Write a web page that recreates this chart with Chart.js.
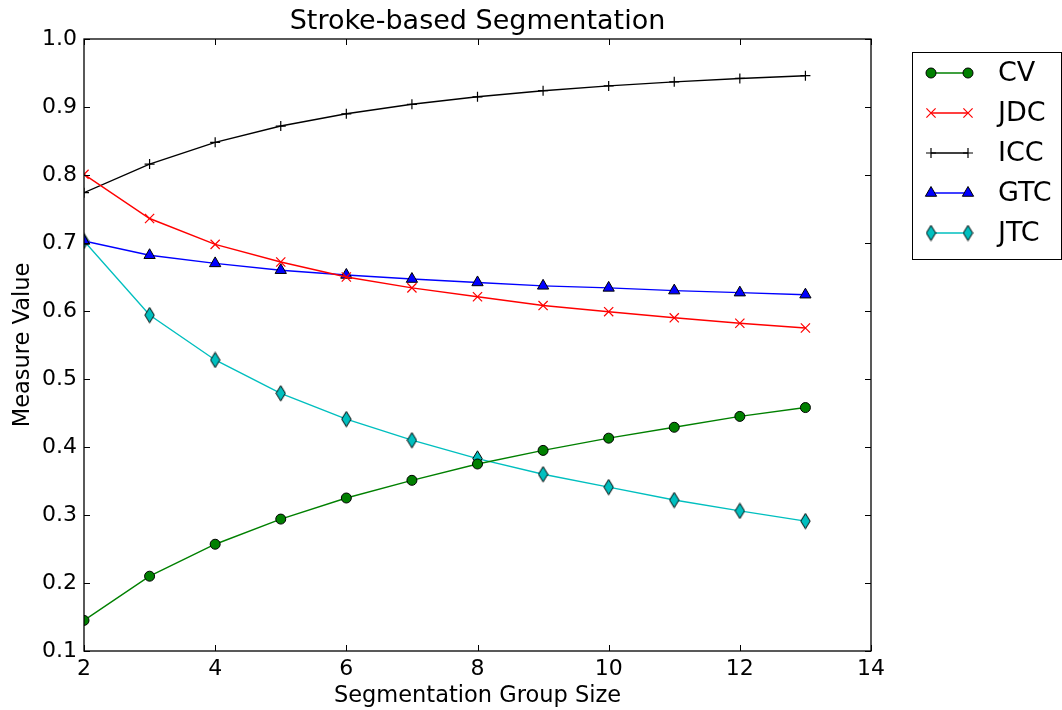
<!DOCTYPE html>
<html>
<head>
<meta charset="utf-8">
<script src="https://cdn.jsdelivr.net/npm/chart.js@4/dist/chart.umd.min.js"></script>
<style>
    html, body { margin: 0; padding: 0; background: #fff; }
    #wrap { width: 1062px; height: 710px; position: relative; }
</style>
</head>
<body>
<div id="wrap"><canvas id="segChart"></canvas></div>
<script>
// data
const groupSizes = [2, 3, 4, 5, 6, 7, 8, 9, 10, 11, 12, 13];
const cvValues  = [0.145, 0.210, 0.257, 0.294, 0.325, 0.351, 0.375, 0.395, 0.413, 0.429, 0.445, 0.458];
const jdcValues = [0.801, 0.736, 0.698, 0.672, 0.650, 0.634, 0.621, 0.608, 0.599, 0.590, 0.582, 0.575];
const iccValues = [0.774, 0.816, 0.848, 0.872, 0.890, 0.904, 0.915, 0.924, 0.931, 0.937, 0.942, 0.946];
const gtcValues = [0.703, 0.682, 0.670, 0.660, 0.653, 0.647, 0.642, 0.637, 0.634, 0.630, 0.627, 0.624];
const jtcValues = [0.703, 0.594, 0.528, 0.479, 0.441, 0.410, 0.383, 0.360, 0.341, 0.322, 0.306, 0.291];
const seriesNames = ['CV', 'JDC', 'ICC', 'GTC', 'JTC'];
const xTicks = [2, 4, 6, 8, 10, 12, 14];
const yTicks = [0.1, 0.2, 0.3, 0.4, 0.5, 0.6, 0.7, 0.8, 0.9, 1.0];

const FONT = 'DejaVu Sans';

document.addEventListener('DOMContentLoaded', function() {
    // thin diamond like matplotlib 'd'
    function makeDiamond(fill) {
        const c = document.createElement('canvas');
        c.width = 11; c.height = 17;
        const g = c.getContext('2d');
        g.beginPath();
        g.moveTo(5.5, 0.8);
        g.lineTo(10.2, 8.5);
        g.lineTo(5.5, 16.2);
        g.lineTo(0.8, 8.5);
        g.closePath();
        g.fillStyle = fill;
        g.fill();
        g.strokeStyle = '#000';
        g.lineWidth = 1;
        g.stroke();
        return c;
    }
    const diamond = makeDiamond('#00bfbf');

    function toPoints(vals) {
        return vals.map((v, i) => ({ x: groupSizes[i], y: v }));
    }

    const datasets = [
        { label: seriesNames[0], data: toPoints(cvValues), borderColor: '#008000', backgroundColor: '#008000',
          pointStyle: 'circle', pointRadius: 5, pointBorderColor: '#000', pointBorderWidth: 1 },
        { label: seriesNames[1], data: toPoints(jdcValues), borderColor: '#ff0000', backgroundColor: '#ff0000',
          pointStyle: 'crossRot', pointRadius: 6.5, pointBorderColor: '#ff0000', pointBorderWidth: 1.2 },
        { label: seriesNames[2], data: toPoints(iccValues), borderColor: '#000000', backgroundColor: '#000000',
          pointStyle: 'cross', pointRadius: 5, pointBorderColor: '#000', pointBorderWidth: 1.2 },
        { label: seriesNames[3], data: toPoints(gtcValues), borderColor: '#0000ff', backgroundColor: '#0000ff',
          pointStyle: 'triangle', pointRadius: 6.5, pointBorderColor: '#000', pointBorderWidth: 1 },
        { label: seriesNames[4], data: toPoints(jtcValues), borderColor: '#00bfbf', backgroundColor: '#00bfbf',
          pointStyle: diamond, pointRadius: 6, pointBorderColor: '#000', pointBorderWidth: 1 }
    ];
    datasets.forEach(d => {
        d.borderWidth = 1.4;
        d.tension = 0;
        d.fill = false;
        d.pointHoverRadius = d.pointRadius;
    });

    // markers for the legend, drawn by hand
    function drawMarker(ctx, ds, x, y) {
        ctx.save();
        ctx.fillStyle = ds.backgroundColor;
        ctx.strokeStyle = ds.pointBorderColor;
        ctx.lineWidth = ds.pointBorderWidth;
        const r = ds.pointRadius;
        ctx.beginPath();
        if (ds.pointStyle === 'circle') {
            ctx.arc(x, y, r, 0, Math.PI * 2);
            ctx.fill(); ctx.stroke();
        } else if (ds.pointStyle === 'crossRot') {
            const o = r * Math.cos(Math.PI / 4);
            ctx.moveTo(x - o, y - o); ctx.lineTo(x + o, y + o);
            ctx.moveTo(x - o, y + o); ctx.lineTo(x + o, y - o);
            ctx.stroke();
        } else if (ds.pointStyle === 'cross') {
            ctx.moveTo(x - r, y); ctx.lineTo(x + r, y);
            ctx.moveTo(x, y - r); ctx.lineTo(x, y + r);
            ctx.stroke();
        } else if (ds.pointStyle === 'triangle') {
            let a = 0;
            ctx.moveTo(x + Math.sin(a) * r, y - Math.cos(a) * r);
            a += Math.PI * 2 / 3;
            ctx.lineTo(x + Math.sin(a) * r, y - Math.cos(a) * r);
            a += Math.PI * 2 / 3;
            ctx.lineTo(x + Math.sin(a) * r, y - Math.cos(a) * r);
            ctx.closePath();
            ctx.fill(); ctx.stroke();
        } else {
            const img = ds.pointStyle;
            ctx.drawImage(img, x - img.width / 2, y - img.height / 2);
        }
        ctx.restore();
    }

    const framePlugin = {
        id: 'frame',
        afterDraw(chart) {
            const ctx = chart.ctx;
            const a = chart.chartArea;
            const xs = chart.scales.x, ys = chart.scales.y;
            ctx.save();
            ctx.strokeStyle = '#000';
            ctx.lineWidth = 1;
            // inward ticks on all four sides
            ctx.beginPath();
            xTicks.forEach(t => {
                const px = Math.round(xs.getPixelForValue(t)) + 0.5;
                ctx.moveTo(px, a.bottom); ctx.lineTo(px, a.bottom - 6);
                ctx.moveTo(px, a.top); ctx.lineTo(px, a.top + 6);
            });
            yTicks.forEach(t => {
                const py = Math.round(ys.getPixelForValue(t)) + 0.5;
                ctx.moveTo(a.left, py); ctx.lineTo(a.left + 6, py);
                ctx.moveTo(a.right, py); ctx.lineTo(a.right - 6, py);
            });
            ctx.stroke();
            ctx.lineWidth = 1.3;
            ctx.strokeRect(a.left, a.top, a.right - a.left, a.bottom - a.top);

            // title
            ctx.fillStyle = '#000';
            ctx.font = '27px "' + FONT + '"';
            ctx.textAlign = 'center';
            ctx.textBaseline = 'alphabetic';
            ctx.fillText('Stroke-based Segmentation', (a.left + a.right) / 2, 29);

            // legend box outside the axes
            const bx = 912, by = 52, bw = 149, bh = 207;
            ctx.fillStyle = '#fff';
            ctx.fillRect(bx, by, bw, bh);
            ctx.lineWidth = 1;
            ctx.strokeRect(bx + 0.5, by + 0.5, bw, bh);
            ctx.font = '27px "' + FONT + '"';
            ctx.textAlign = 'left';
            ctx.textBaseline = 'middle';
            chart.data.datasets.forEach((ds, i) => {
                const y = 73 + i * 40;
                ctx.beginPath();
                ctx.strokeStyle = ds.borderColor;
                ctx.lineWidth = ds.borderWidth;
                ctx.moveTo(931, y); ctx.lineTo(968, y);
                ctx.stroke();
                drawMarker(ctx, ds, 931, y);
                drawMarker(ctx, ds, 968, y);
                ctx.fillStyle = '#000';
                ctx.fillText(ds.label, 998, y + 1);
            });
            ctx.restore();
        }
    };

    const ctx = document.getElementById('segChart').getContext('2d');
    new Chart(ctx, {
        type: 'line',
        data: { datasets: datasets },
        options: {
            responsive: true,
            maintainAspectRatio: false,
            animation: false,
            layout: { padding: { top: 39, right: 191, bottom: 0, left: 0 } },
            plugins: {
                legend: { display: false },
                title: { display: false },
                tooltip: { enabled: false }
            },
            scales: {
                x: {
                    type: 'linear',
                    min: 2,
                    max: 14,
                    afterFit: s => { s.height = 59; },
                    afterBuildTicks: s => { s.ticks = xTicks.map(v => ({ value: v })); },
                    grid: { display: false, drawTicks: false },
                    border: { display: false },
                    ticks: {
                        color: '#000',
                        padding: 5,
                        maxRotation: 0,
                        font: { family: FONT, size: 22 },
                        callback: v => String(v)
                    },
                    title: {
                        display: true,
                        text: 'Segmentation Group Size',
                        color: '#000',
                        font: { family: FONT, size: 22.5 },
                        padding: { top: 0, bottom: 0 }
                    }
                },
                y: {
                    min: 0.1,
                    max: 1.0,
                    afterFit: s => { s.width = 84; },
                    afterBuildTicks: s => { s.ticks = yTicks.map(v => ({ value: v })); },
                    grid: { display: false, drawTicks: false },
                    border: { display: false },
                    ticks: {
                        color: '#000',
                        padding: 7,
                        font: { family: FONT, size: 22 },
                        callback: v => Number(v).toFixed(1)
                    },
                    title: {
                        display: true,
                        text: 'Measure Value',
                        color: '#000',
                        font: { family: FONT, size: 22.5 },
                        padding: { top: 9.5, bottom: 0 }
                    }
                }
            }
        },
        plugins: [framePlugin]
    });
});
</script>
</body>
</html>
